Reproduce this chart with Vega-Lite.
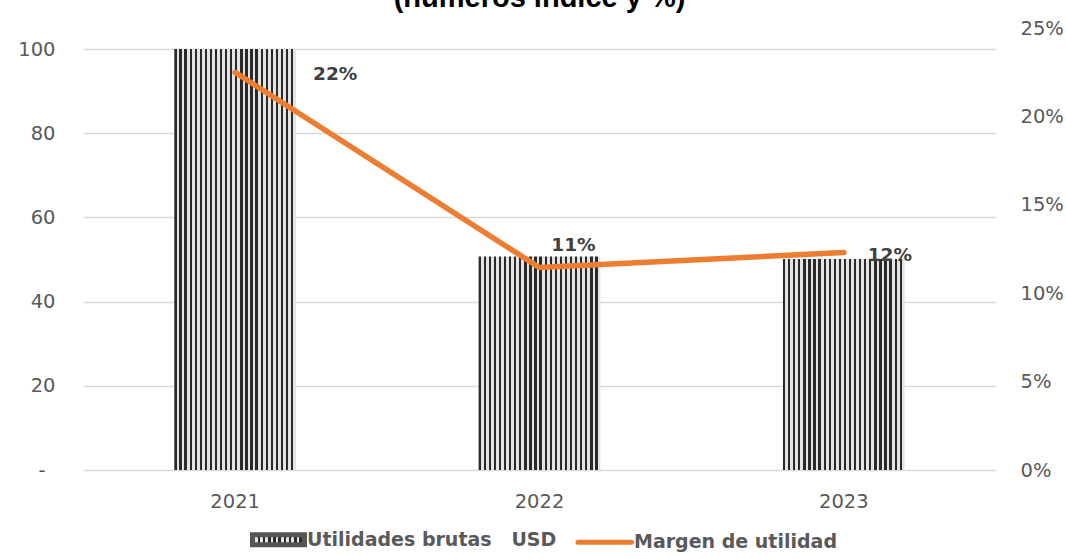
{
  "$schema": "https://vega.github.io/schema/vega-lite/v6.json",
  "autosize": {"type": "none"},
  "padding": {"left": 83, "top": 28, "right": 70, "bottom": 89},
  "width": 913,
  "height": 442,
  "background": "white",
  "title": {"text": "(números índice y %)", "font": "Liberation Sans", "fontSize": 29, "fontWeight": "bold", "color": "#000000", "anchor": "middle", "frame": "group", "offset": 7, "dy": 25, "baseline": "alphabetic"},
  "data": {"values": [
    {"year": "2021", "utilidades": 100, "margen": 0.2249},
    {"year": "2022", "utilidades": 50.7, "margen": 0.1145},
    {"year": "2023", "utilidades": 50.1, "margen": 0.123}
  ]},
  "encoding": {
    "x": {"field": "year", "type": "ordinal", "scale": {"paddingInner": 0.6, "paddingOuter": 0.3},
      "axis": {"title": null, "labelAngle": 0, "domain": false, "ticks": false, "grid": false, "labelPadding": 22}}
  },
  "layer": [
    {
      "mark": {"type": "bar", "fill": {"gradient": "linear", "x1": 0, "y1": 0, "x2": 1, "y2": 0, "stops": [
        {"offset":0,"color":"#2a2a2a"},{"offset":0.01875,"color":"#2a2a2a"},{"offset":0.01875,"color":"#e4e4e4"},{"offset":0.04167,"color":"#e4e4e4"},
        {"offset":0.04167,"color":"#2a2a2a"},{"offset":0.06042,"color":"#2a2a2a"},{"offset":0.06042,"color":"#e4e4e4"},{"offset":0.08333,"color":"#e4e4e4"},
        {"offset":0.08333,"color":"#2a2a2a"},{"offset":0.10208,"color":"#2a2a2a"},{"offset":0.10208,"color":"#e4e4e4"},{"offset":0.125,"color":"#e4e4e4"},
        {"offset":0.125,"color":"#2a2a2a"},{"offset":0.14375,"color":"#2a2a2a"},{"offset":0.14375,"color":"#e4e4e4"},{"offset":0.16667,"color":"#e4e4e4"},
        {"offset":0.16667,"color":"#2a2a2a"},{"offset":0.18542,"color":"#2a2a2a"},{"offset":0.18542,"color":"#e4e4e4"},{"offset":0.20833,"color":"#e4e4e4"},
        {"offset":0.20833,"color":"#2a2a2a"},{"offset":0.22708,"color":"#2a2a2a"},{"offset":0.22708,"color":"#e4e4e4"},{"offset":0.25,"color":"#e4e4e4"},
        {"offset":0.25,"color":"#2a2a2a"},{"offset":0.26875,"color":"#2a2a2a"},{"offset":0.26875,"color":"#e4e4e4"},{"offset":0.29167,"color":"#e4e4e4"},
        {"offset":0.29167,"color":"#2a2a2a"},{"offset":0.31042,"color":"#2a2a2a"},{"offset":0.31042,"color":"#e4e4e4"},{"offset":0.33333,"color":"#e4e4e4"},
        {"offset":0.33333,"color":"#2a2a2a"},{"offset":0.35208,"color":"#2a2a2a"},{"offset":0.35208,"color":"#e4e4e4"},{"offset":0.375,"color":"#e4e4e4"},
        {"offset":0.375,"color":"#2a2a2a"},{"offset":0.39375,"color":"#2a2a2a"},{"offset":0.39375,"color":"#e4e4e4"},{"offset":0.41667,"color":"#e4e4e4"},
        {"offset":0.41667,"color":"#2a2a2a"},{"offset":0.43542,"color":"#2a2a2a"},{"offset":0.43542,"color":"#e4e4e4"},{"offset":0.45833,"color":"#e4e4e4"},
        {"offset":0.45833,"color":"#2a2a2a"},{"offset":0.47708,"color":"#2a2a2a"},{"offset":0.47708,"color":"#e4e4e4"},{"offset":0.5,"color":"#e4e4e4"},
        {"offset":0.5,"color":"#2a2a2a"},{"offset":0.51875,"color":"#2a2a2a"},{"offset":0.51875,"color":"#e4e4e4"},{"offset":0.54167,"color":"#e4e4e4"},
        {"offset":0.54167,"color":"#2a2a2a"},{"offset":0.56042,"color":"#2a2a2a"},{"offset":0.56042,"color":"#e4e4e4"},{"offset":0.58333,"color":"#e4e4e4"},
        {"offset":0.58333,"color":"#2a2a2a"},{"offset":0.60208,"color":"#2a2a2a"},{"offset":0.60208,"color":"#e4e4e4"},{"offset":0.625,"color":"#e4e4e4"},
        {"offset":0.625,"color":"#2a2a2a"},{"offset":0.64375,"color":"#2a2a2a"},{"offset":0.64375,"color":"#e4e4e4"},{"offset":0.66667,"color":"#e4e4e4"},
        {"offset":0.66667,"color":"#2a2a2a"},{"offset":0.68542,"color":"#2a2a2a"},{"offset":0.68542,"color":"#e4e4e4"},{"offset":0.70833,"color":"#e4e4e4"},
        {"offset":0.70833,"color":"#2a2a2a"},{"offset":0.72708,"color":"#2a2a2a"},{"offset":0.72708,"color":"#e4e4e4"},{"offset":0.75,"color":"#e4e4e4"},
        {"offset":0.75,"color":"#2a2a2a"},{"offset":0.76875,"color":"#2a2a2a"},{"offset":0.76875,"color":"#e4e4e4"},{"offset":0.79167,"color":"#e4e4e4"},
        {"offset":0.79167,"color":"#2a2a2a"},{"offset":0.81042,"color":"#2a2a2a"},{"offset":0.81042,"color":"#e4e4e4"},{"offset":0.83333,"color":"#e4e4e4"},
        {"offset":0.83333,"color":"#2a2a2a"},{"offset":0.85208,"color":"#2a2a2a"},{"offset":0.85208,"color":"#e4e4e4"},{"offset":0.875,"color":"#e4e4e4"},
        {"offset":0.875,"color":"#2a2a2a"},{"offset":0.89375,"color":"#2a2a2a"},{"offset":0.89375,"color":"#e4e4e4"},{"offset":0.91667,"color":"#e4e4e4"},
        {"offset":0.91667,"color":"#2a2a2a"},{"offset":0.93542,"color":"#2a2a2a"},{"offset":0.93542,"color":"#e4e4e4"},{"offset":0.95833,"color":"#e4e4e4"},
        {"offset":0.95833,"color":"#2a2a2a"},{"offset":0.97708,"color":"#2a2a2a"},{"offset":0.97708,"color":"#e4e4e4"},{"offset":1,"color":"#e4e4e4"}
      ]}},
      "encoding": {
        "y": {"field": "utilidades", "type": "quantitative", "scale": {"domain": [0, 105], "nice": false},
          "axis": {"orient": "left", "title": null, "values": [0, 20, 40, 60, 80, 100], "labelExpr": "datum.value === 0 ? '-' : datum.label",
            "grid": true, "gridColor": "#d9d9d9", "gridWidth": 1.5, "domain": false, "ticks": false,
            "labelPadding": {"condition": {"test": "datum.value === 0", "value": 38}, "value": 28}}}
      }
    },
    {
      "encoding": {
        "y": {"field": "margen", "type": "quantitative", "scale": {"domain": [0, 0.25], "nice": false},
          "axis": {"orient": "right", "title": null, "values": [0, 0.05, 0.1, 0.15, 0.2, 0.25], "format": ".0%",
            "grid": false, "domain": false, "ticks": false, "labelPadding": 24}}
      },
      "layer": [
        {
          "mark": {"type": "line", "strokeWidth": 5.5, "strokeJoin": "round", "strokeCap": "round"},
          "encoding": {
            "color": {"datum": "Margen de utilidad", "type": "nominal",
              "scale": {"domain": ["Utilidades brutas \u00a0 USD", "Margen de utilidad"], "range": ["#555555", "#ED7D31"]},
              "legend": {"orient": "none", "legendX": 167, "legendY": 483, "direction": "horizontal", "title": null,
                "labelFont": "DejaVu Sans", "labelFontWeight": "bold", "labelFontSize": 19, "labelColor": "#595959", "labelLimit": 400,
                "labelOffset": 0, "columnPadding": 10, "padding": 0, "symbolSize": 2704,
                "encode": {"symbols": {"update": {
                  "shape": {"signal": "datum.value === 'Margen de utilidad' ? 'M-1.06,0H1' : 'M-1,-0.19H1V0.19H-1Z'"},
                  "size": {"value": 2704},
                  "stroke": [{"test": "datum.value === 'Margen de utilidad'", "value": "#ED7D31"}, {"value": "transparent"}],
                  "strokeWidth": {"value": 5},
                  "strokeCap": {"value": "round"},
                  "opacity": {"value": 1},
                  "fill": [{"test": "datum.value === 'Margen de utilidad'", "value": "transparent"}, {"value": {"gradient": "linear", "x1": 0, "y1": 0, "x2": 1, "y2": 0, "stops": [
                    {"offset":0,"color":"#2a2a2a"},{"offset":0.05,"color":"#2a2a2a"},{"offset":0.05,"color":"#e4e4e4"},{"offset":0.1,"color":"#e4e4e4"},
                    {"offset":0.1,"color":"#2a2a2a"},{"offset":0.15,"color":"#2a2a2a"},{"offset":0.15,"color":"#e4e4e4"},{"offset":0.2,"color":"#e4e4e4"},
                    {"offset":0.2,"color":"#2a2a2a"},{"offset":0.25,"color":"#2a2a2a"},{"offset":0.25,"color":"#e4e4e4"},{"offset":0.3,"color":"#e4e4e4"},
                    {"offset":0.3,"color":"#2a2a2a"},{"offset":0.35,"color":"#2a2a2a"},{"offset":0.35,"color":"#e4e4e4"},{"offset":0.4,"color":"#e4e4e4"},
                    {"offset":0.4,"color":"#2a2a2a"},{"offset":0.45,"color":"#2a2a2a"},{"offset":0.45,"color":"#e4e4e4"},{"offset":0.5,"color":"#e4e4e4"},
                    {"offset":0.5,"color":"#2a2a2a"},{"offset":0.55,"color":"#2a2a2a"},{"offset":0.55,"color":"#e4e4e4"},{"offset":0.6,"color":"#e4e4e4"},
                    {"offset":0.6,"color":"#2a2a2a"},{"offset":0.65,"color":"#2a2a2a"},{"offset":0.65,"color":"#e4e4e4"},{"offset":0.7,"color":"#e4e4e4"},
                    {"offset":0.7,"color":"#2a2a2a"},{"offset":0.75,"color":"#2a2a2a"},{"offset":0.75,"color":"#e4e4e4"},{"offset":0.8,"color":"#e4e4e4"},
                    {"offset":0.8,"color":"#2a2a2a"},{"offset":0.85,"color":"#2a2a2a"},{"offset":0.85,"color":"#e4e4e4"},{"offset":0.9,"color":"#e4e4e4"},
                    {"offset":0.9,"color":"#2a2a2a"},{"offset":0.95,"color":"#2a2a2a"},{"offset":0.95,"color":"#e4e4e4"},{"offset":1,"color":"#e4e4e4"}
                  ]}}]
                }}}
              }
            }
          }
        },
        {
          "transform": [{"filter": "datum.year === '2021'"}],
          "mark": {"type": "text", "dx": 100, "dy": 2, "font": "DejaVu Sans", "fontWeight": "bold", "fontSize": 18.5, "color": "#404040"},
          "encoding": {"text": {"field": "margen", "type": "quantitative", "format": ".0%"}}
        },
        {
          "transform": [{"filter": "datum.year === '2022'"}],
          "mark": {"type": "text", "dx": 34, "dy": -23, "font": "DejaVu Sans", "fontWeight": "bold", "fontSize": 18.5, "color": "#404040"},
          "encoding": {"text": {"field": "margen", "type": "quantitative", "format": ".0%"}}
        },
        {
          "transform": [{"filter": "datum.year === '2023'"}],
          "mark": {"type": "text", "dx": 46, "dy": 2, "font": "DejaVu Sans", "fontWeight": "bold", "fontSize": 18.5, "color": "#404040"},
          "encoding": {"text": {"field": "margen", "type": "quantitative", "format": ".0%"}}
        }
      ]
    }
  ],
  "resolve": {"scale": {"y": "independent"}},
  "config": {
    "view": {"stroke": null},
    "axis": {"labelFont": "DejaVu Sans", "labelFontSize": 19.5, "labelColor": "#595959"}
  }
}
